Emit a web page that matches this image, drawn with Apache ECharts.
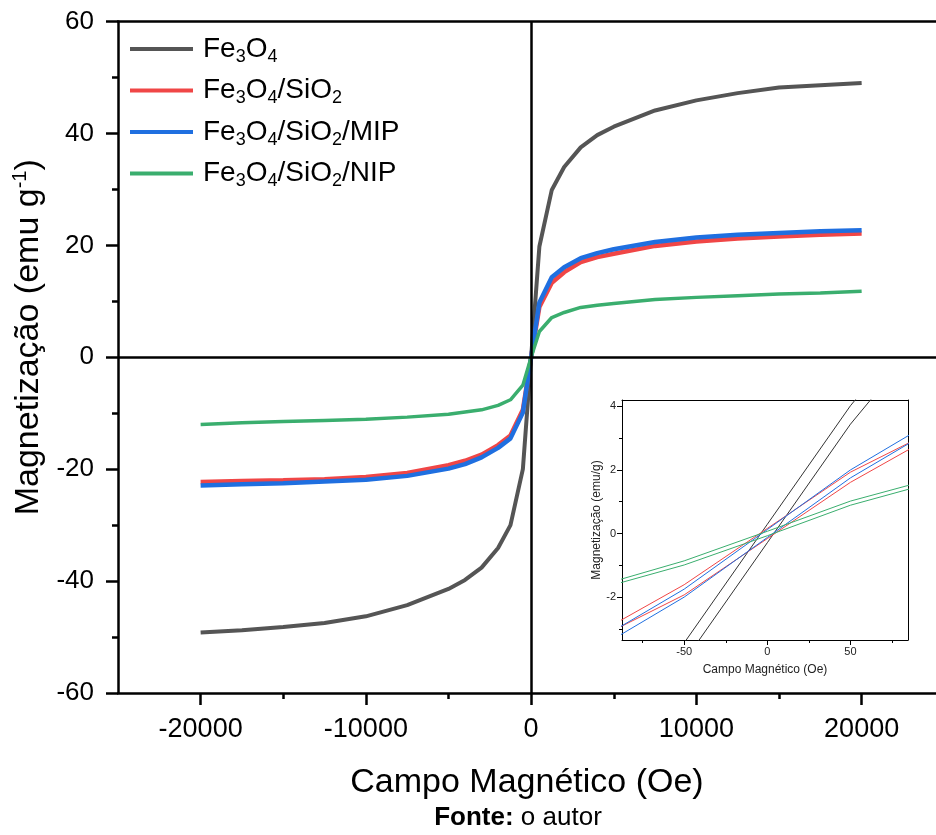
<!DOCTYPE html>
<html>
<head>
    <meta charset="UTF-8">
    <title>Magnetização</title>
    <script src="https://cdn.jsdelivr.net/npm/echarts@6/dist/echarts.min.js"></script>
</head>
<body style="margin:0;background:#fff">
    <div id="chart" style="width:936px;height:835px"></div>

    <script type="text/javascript">
        var chart = echarts.init(document.getElementById('chart'));

        // main loop, field in Oe and magnetization in emu/g
        var field = [-20000, -17500, -15000, -12500, -10000, -7500, -5000, -4000, -3000, -2000, -1250, -500, 0,
            500, 1250, 2000, 3000, 4000, 5000, 7500, 10000, 12500, 15000, 17500, 20000];
        var fe3o4 = [-49.2, -48.8, -48.2, -47.5, -46.3, -44.3, -41.4, -39.8, -37.6, -34.1, -30.0, -20.0, 0,
            19.8, 29.9, 34.0, 37.5, 39.7, 41.2, 44.1, 45.9, 47.2, 48.2, 48.6, 49.0];
        var fe3o4Si = [-22.3, -22.1, -22.0, -21.8, -21.4, -20.7, -19.3, -18.5, -17.4, -15.7, -14.0, -9.4, 0,
            9.0, 13.3, 15.2, 17.0, 17.9, 18.5, 19.9, 20.7, 21.2, 21.6, 21.9, 22.1];
        var fe3o4Mip = [-22.9, -22.7, -22.5, -22.2, -21.9, -21.2, -19.9, -19.1, -17.9, -16.2, -14.5, -9.9, 0,
            9.8, 14.3, 16.1, 17.7, 18.6, 19.3, 20.6, 21.4, 21.9, 22.2, 22.5, 22.7];
        var fe3o4Nip = [-12.0, -11.7, -11.5, -11.3, -11.1, -10.7, -10.2, -9.8, -9.4, -8.6, -7.6, -5.0, 0,
            4.6, 7.1, 8.0, 8.9, 9.3, 9.6, 10.3, 10.7, 11.0, 11.3, 11.5, 11.8];

        // inset: both branches near zero field
        var insetField = [-100, -50, 0, 50, 100];
        var insetFeUp = [-6.6, -3.44, 0.29, 4.02, 7.2];
        var insetFeDown = [-7.2, -4.02, -0.29, 3.44, 6.6];
        var insetSiUp = [-3.08, -1.61, 0.16, 1.93, 3.24];
        var insetSiDown = [-3.24, -1.93, -0.16, 1.61, 3.08];
        var insetMipUp = [-3.29, -1.75, 0.125, 2.0, 3.55];
        var insetMipDown = [-3.55, -2.0, -0.125, 1.75, 3.29];
        var insetNipUp = [-1.62, -0.86, 0.07, 1.02, 1.73];
        var insetNipDown = [-1.72, -0.99, -0.07, 0.89, 1.61];

        var names = ['Fe3O4', 'Fe3O4/SiO2', 'Fe3O4/SiO2/MIP', 'Fe3O4/SiO2/NIP'];
        var colors = ['#555555', '#f04646', '#1f6fe0', '#3aae6e'];

        var xTicks = [-20000, -10000, 0, 10000, 20000];
        var xMinor = [-15000, -5000, 5000, 15000];
        var yMinor = [-50, -30, -10, 10, 30, 50];
        var insetXTicks = [-50, 0, 50];
        var insetXMinor = [-75, -25, 25, 75];
        var insetYTicks = [-2, 0, 2, 4];
        var insetYMinor = [-3, -1, 1, 3];

        var font = 'Liberation Sans';

        function pairs(xs, ys) {
            return xs.map(function (x, i) { return [x, ys[i]]; });
        }

        function plain(v) {
            return String(v);
        }

        function mainLine(name, values, color, width) {
            return {
                name: name,
                type: 'line',
                xAxisIndex: 0,
                yAxisIndex: 0,
                data: pairs(field, values),
                symbol: 'none',
                lineStyle: { color: color, width: width },
                itemStyle: { color: color }
            };
        }

        function insetLine(name, values, color) {
            return {
                name: name,
                type: 'line',
                xAxisIndex: 3,
                yAxisIndex: 2,
                data: pairs(insetField, values),
                symbol: 'none',
                lineStyle: { color: color, width: 1 },
                itemStyle: { color: color },
                z: 5
            };
        }

        var black = { color: '#000', width: 2.5 };
        var thin = { color: '#000', width: 1 };

        var series = [
            mainLine(names[0], fe3o4, colors[0], 4),
            mainLine(names[1], fe3o4Si, colors[1], 4.5),
            mainLine(names[2], fe3o4Mip, colors[2], 4.5),
            mainLine(names[3], fe3o4Nip, colors[3], 3.5),
            insetLine(names[0], insetFeUp, '#333'),
            insetLine(names[0], insetFeDown, '#333'),
            insetLine(names[1], insetSiUp, colors[1]),
            insetLine(names[1], insetSiDown, colors[1]),
            insetLine(names[2], insetMipUp, colors[2]),
            insetLine(names[2], insetMipDown, colors[2]),
            insetLine(names[3], insetNipUp, colors[3]),
            insetLine(names[3], insetNipDown, colors[3])
        ];

        // zero lines through the origin
        series[0].markLine = {
            silent: true,
            symbol: ['none', 'none'],
            label: { show: false },
            lineStyle: { color: '#000', width: 2.5, type: 'solid' },
            data: [{ xAxis: 0 }, { yAxis: 0 }]
        };

        var option = {
            animation: false,
            textStyle: { fontFamily: font },
            grid: [
                { left: 118, top: 21.5, right: 0, height: 671.5 },
                { left: 622, top: 400, width: 286, height: 240 }
            ],
            legend: {
                data: names,
                orient: 'vertical',
                left: 130,
                top: 35,
                padding: 0,
                itemWidth: 63,
                itemHeight: 4,
                itemGap: 10.5,
                icon: 'rect',
                formatter: function (name) {
                    return name.replace(/(\d)/g, '{sub|$1}');
                },
                textStyle: {
                    fontFamily: font,
                    fontSize: 28,
                    color: '#000',
                    padding: [0, 0, 0, 5],
                    rich: {
                        sub: { fontFamily: font, fontSize: 18, color: '#000', padding: [16, 0, 0, 0] }
                    }
                }
            },
            xAxis: [
                {
                    type: 'value', gridIndex: 0, position: 'bottom', min: -25000, max: 24500,
                    axisLine: { onZero: false, lineStyle: black },
                    axisTick: { customValues: xTicks, length: 12, lineStyle: { width: 2.5 } },
                    axisLabel: { customValues: xTicks, formatter: plain, fontSize: 27, color: '#000', margin: 23, fontFamily: font },
                    splitLine: { show: false },
                    name: 'Campo Magnético (Oe)',
                    nameLocation: 'middle',
                    nameGap: 73,
                    nameTextStyle: { fontSize: 34, color: '#000', fontFamily: font }
                },
                {
                    type: 'value', gridIndex: 0, position: 'bottom', min: -25000, max: 24500,
                    axisLine: { show: false, onZero: false },
                    axisTick: { customValues: xMinor, length: 6, lineStyle: { color: '#000', width: 2.5 } },
                    axisLabel: { show: false },
                    splitLine: { show: false }
                },
                {
                    type: 'value', gridIndex: 0, position: 'top', min: -25000, max: 24500,
                    axisLine: { onZero: false, lineStyle: black },
                    axisTick: { show: false },
                    axisLabel: { show: false },
                    splitLine: { show: false }
                },
                {
                    type: 'value', gridIndex: 1, position: 'bottom', min: -87.4, max: 84.6,
                    axisLine: { onZero: false, lineStyle: thin },
                    axisTick: { customValues: insetXTicks, length: 5, lineStyle: thin },
                    axisLabel: { customValues: insetXTicks, formatter: plain, fontSize: 11, color: '#222', margin: 6, fontFamily: font },
                    splitLine: { show: false },
                    name: 'Campo Magnético (Oe)',
                    nameLocation: 'middle',
                    nameGap: 24,
                    nameTextStyle: { fontSize: 12, color: '#222', fontFamily: font }
                },
                {
                    type: 'value', gridIndex: 1, position: 'bottom', min: -87.4, max: 84.6,
                    axisLine: { show: false, onZero: false },
                    axisTick: { customValues: insetXMinor, length: 3, lineStyle: thin },
                    axisLabel: { show: false },
                    splitLine: { show: false }
                },
                {
                    type: 'value', gridIndex: 1, position: 'top', min: -87.4, max: 84.6,
                    axisLine: { onZero: false, lineStyle: thin },
                    axisTick: { show: false },
                    axisLabel: { show: false },
                    splitLine: { show: false }
                }
            ],
            yAxis: [
                {
                    type: 'value', gridIndex: 0, position: 'left', min: -60, max: 60, interval: 20,
                    axisLine: { onZero: false, lineStyle: black },
                    axisTick: { length: 12, lineStyle: { width: 2.5 } },
                    axisLabel: { fontSize: 26, color: '#000', margin: 24, fontFamily: font },
                    splitLine: { show: false },
                    name: 'Magnetização (emu g{sup|-1})',
                    nameLocation: 'middle',
                    nameGap: 55,
                    nameTextStyle: {
                        fontSize: 34, color: '#000', fontFamily: font,
                        padding: [0, 0, 0, 40],
                        rich: { sup: { fontSize: 20, color: '#000', fontFamily: font, padding: [0, 0, 16, 0] } }
                    }
                },
                {
                    type: 'value', gridIndex: 0, position: 'left', min: -60, max: 60,
                    axisLine: { show: false, onZero: false },
                    axisTick: { customValues: yMinor, length: 6, lineStyle: { color: '#000', width: 2.5 } },
                    axisLabel: { show: false },
                    splitLine: { show: false }
                },
                {
                    type: 'value', gridIndex: 1, position: 'left', min: -3.35, max: 4.2,
                    axisLine: { onZero: false, lineStyle: thin },
                    axisTick: { customValues: insetYTicks, length: 5, lineStyle: thin },
                    axisLabel: { customValues: insetYTicks, formatter: plain, fontSize: 11, color: '#222', margin: 6, fontFamily: font },
                    splitLine: { show: false },
                    name: 'Magnetização (emu/g)',
                    nameLocation: 'middle',
                    nameGap: 18,
                    nameTextStyle: { fontSize: 12, color: '#222', fontFamily: font }
                },
                {
                    type: 'value', gridIndex: 1, position: 'left', min: -3.35, max: 4.2,
                    axisLine: { show: false, onZero: false },
                    axisTick: { customValues: insetYMinor, length: 3, lineStyle: thin },
                    axisLabel: { show: false },
                    splitLine: { show: false }
                },
                {
                    type: 'value', gridIndex: 1, position: 'right', min: -3.35, max: 4.2,
                    axisLine: { onZero: false, lineStyle: thin },
                    axisTick: { show: false },
                    axisLabel: { show: false },
                    splitLine: { show: false }
                }
            ],
            graphic: [{
                type: 'text',
                x: 518,
                y: 818,
                style: {
                    text: '{b|Fonte:} o autor',
                    fontFamily: font,
                    fontSize: 26,
                    fill: '#000',
                    align: 'center',
                    verticalAlign: 'middle',
                    rich: { b: { fontFamily: font, fontSize: 26, fontWeight: 'bold', fill: '#000' } }
                }
            }],
            series: series
        };

        chart.setOption(option);
    </script>
</body>
</html>
